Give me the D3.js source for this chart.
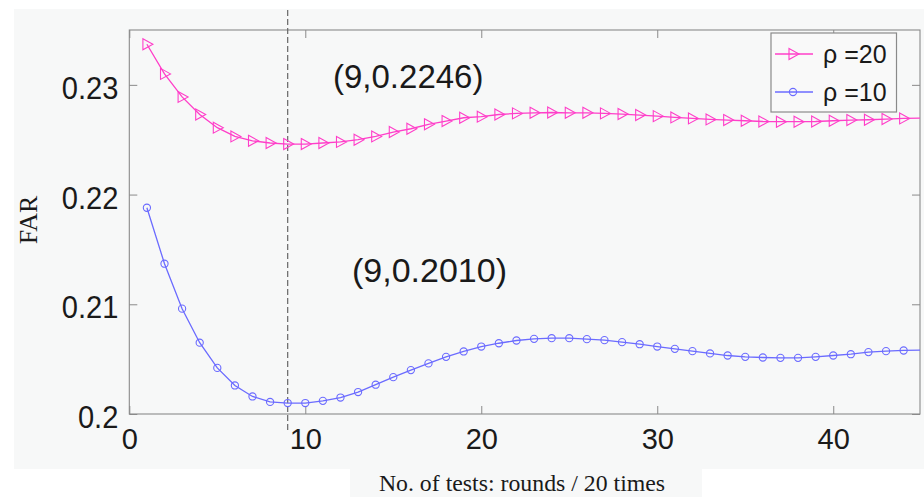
<!DOCTYPE html>
<html>
<head>
<meta charset="utf-8">
<script src="https://cdn.jsdelivr.net/npm/d3@7"></script>
<style>
  html, body { margin: 0; padding: 0; background: #ffffff; }
  svg { display: block; }
</style>
</head>
<body>
<svg id="chart" width="924" height="497"></svg>
<script>
// Test rounds (x) and false-alarm rate for the two ρ settings
const rounds = d3.range(1, 46);
const far20 = [
  0.2337, 0.2310, 0.2289, 0.2273, 0.2261, 0.2253, 0.2249, 0.2247, 0.2246, 0.2246,
  0.2247, 0.2248, 0.2250, 0.2253, 0.2257, 0.2260, 0.2264, 0.2267, 0.2270, 0.2271,
  0.2273, 0.2274, 0.22745, 0.22748, 0.22745, 0.22745, 0.2274, 0.22734, 0.22725, 0.22715,
  0.22703, 0.22694, 0.22685, 0.22679, 0.22673, 0.22666, 0.22664, 0.22664, 0.22666, 0.22673,
  0.22679, 0.22682, 0.22688, 0.22694, 0.22697
];
const far10 = [
  0.2188, 0.2137, 0.2096, 0.2065, 0.2042, 0.2026, 0.2016, 0.2011, 0.2010, 0.2010,
  0.2012, 0.2015, 0.2020, 0.20267, 0.20336, 0.2040, 0.20461, 0.20521, 0.2057, 0.20615,
  0.20645, 0.2067, 0.20685, 0.20691, 0.20691, 0.20682, 0.20673, 0.20655, 0.20636, 0.20615,
  0.20594, 0.20573, 0.20552, 0.20533, 0.20521, 0.20515, 0.20512, 0.20512, 0.20521, 0.20533,
  0.20545, 0.20564, 0.20573, 0.20579, 0.20582
];
const xTicks = [0, 10, 20, 30, 40];
const yTicks = [0.2, 0.21, 0.22, 0.23];
const yTickLabels = ["0.2", "0.21", "0.22", "0.23"];
const seriesNames = ["ρ =20", "ρ =10"];
const markRound = 9;
const markLabels = ["(9,0.2246)", "(9,0.2010)"];

const svg = d3.select("#chart");
const M = { left: 129.3, right: 920, top: 30, bottom: 414 };
const x = d3.scaleLinear().domain([0, 44.93]).range([M.left, M.right]);
const y = d3.scaleLinear().domain([0.2, 0.235]).range([M.bottom, M.top]);

const pink = "#ff3fc9";
const blue = "#6b6bff";
const frame = "#8a8a8a";
const sansFont = "'Liberation Sans', Arial, sans-serif";
const serif = "'Liberation Serif', 'Times New Roman', serif";

// figure background panel
svg.append("rect").attr("x", 14).attr("y", 9).attr("width", 910).attr("height", 460).attr("fill", "#f7f8f8");
svg.append("rect").attr("x", 350).attr("y", 469).attr("width", 352).attr("height", 28).attr("fill", "#f7f8f8");

svg.append("defs").append("clipPath").attr("id", "plotClip")
  .append("rect").attr("x", M.left).attr("y", M.top)
  .attr("width", M.right - M.left).attr("height", M.bottom - M.top);

// axes with inward ticks on all four sides
const tickLen = 8;
svg.append("g").attr("transform", `translate(0,${M.bottom})`)
  .call(d3.axisBottom(x).tickValues(xTicks).tickSizeInner(-tickLen).tickSizeOuter(0).tickPadding(14).tickFormat(d3.format("d")))
  .call(g => g.selectAll("text").attr("font-family", sansFont).attr("font-size", 29).attr("fill", "#1a1a1a").attr("dy", "0.71em"));
svg.append("g").attr("transform", `translate(0,${M.top})`)
  .call(d3.axisTop(x).tickValues(xTicks).tickSizeInner(-tickLen).tickSizeOuter(0).tickFormat(""));
svg.append("g").attr("transform", `translate(${M.left},0)`)
  .call(d3.axisLeft(y).tickValues(yTicks).tickSizeInner(-tickLen).tickSizeOuter(0).tickPadding(12)
    .tickFormat((d, i) => yTickLabels[i]))
  .call(g => g.selectAll("text").attr("font-family", sansFont).attr("font-size", 32)
    .attr("fill", "#1a1a1a").attr("dy", "0.42em").attr("transform", "scale(0.91,1)"));
svg.append("g").attr("transform", `translate(${M.right},0)`)
  .call(d3.axisRight(y).tickValues(yTicks).tickSizeInner(-tickLen).tickSizeOuter(0).tickFormat(""));
svg.selectAll(".domain").remove();
svg.selectAll(".tick line").attr("stroke", frame).attr("stroke-width", 1);

svg.append("rect").attr("x", M.left).attr("y", M.top)
  .attr("width", M.right - M.left).attr("height", M.bottom - M.top)
  .attr("fill", "none").attr("stroke", frame).attr("stroke-width", 1.1);

// vertical marker at the minimum round
svg.append("line")
  .attr("x1", x(markRound)).attr("x2", x(markRound))
  .attr("y1", 10).attr("y2", 431)
  .attr("stroke", "#666").attr("stroke-width", 1.2).attr("stroke-dasharray", "6,3");

const line = d3.line().x(d => x(d[0])).y(d => y(d[1]));
const plot = svg.append("g").attr("clip-path", "url(#plotClip)");

const s20 = rounds.map((r, i) => [r, far20[i]]);
const s10 = rounds.map((r, i) => [r, far10[i]]);
const visible = d => x(d[0]) <= M.right - 2;

const triangle = (cx, cy) => `M${cx - 4},${cy - 5.5}L${cx + 6},${cy}L${cx - 4},${cy + 5.5}Z`;

plot.append("path").datum(s20).attr("d", line).attr("fill", "none").attr("stroke", pink).attr("stroke-width", 1.3);
plot.selectAll(".m20").data(s20.filter(visible)).enter().append("path").attr("class", "m20")
  .attr("d", d => triangle(x(d[0]), y(d[1])))
  .attr("fill", "none").attr("stroke", pink).attr("stroke-width", 1.1);

plot.append("path").datum(s10).attr("d", line).attr("fill", "none").attr("stroke", blue).attr("stroke-width", 1.3);
plot.selectAll(".m10").data(s10.filter(visible)).enter().append("circle").attr("class", "m10")
  .attr("cx", d => x(d[0])).attr("cy", d => y(d[1])).attr("r", 3.6)
  .attr("fill", "none").attr("stroke", blue).attr("stroke-width", 1.1);

// value callouts
svg.append("text").attr("x", 333).attr("y", 88).attr("font-family", sansFont).attr("font-size", 33)
  .attr("fill", "#1a1a1a").text(markLabels[0]);
svg.append("text").attr("x", 352).attr("y", 282).attr("font-family", sansFont).attr("font-size", 34)
  .attr("fill", "#1a1a1a").text(markLabels[1]);

// legend
const lg = svg.append("g");
lg.append("rect").attr("x", 771).attr("y", 33).attr("width", 125.5).attr("height", 79)
  .attr("fill", "#f9f9f9").attr("stroke", frame).attr("stroke-width", 1.2);
const rowsY = [54, 92];
lg.append("line").attr("x1", 775).attr("x2", 813).attr("y1", rowsY[0]).attr("y2", rowsY[0]).attr("stroke", pink).attr("stroke-width", 1.3);
lg.append("path").attr("d", triangle(793, rowsY[0])).attr("fill", "none").attr("stroke", pink).attr("stroke-width", 1.1);
lg.append("line").attr("x1", 775).attr("x2", 813).attr("y1", rowsY[1]).attr("y2", rowsY[1]).attr("stroke", blue).attr("stroke-width", 1.3);
lg.append("circle").attr("cx", 793).attr("cy", rowsY[1]).attr("r", 3.6).attr("fill", "none").attr("stroke", blue).attr("stroke-width", 1.1);
lg.selectAll(".lt").data(seriesNames).enter().append("text").attr("class", "lt")
  .attr("x", 823).attr("y", (d, i) => rowsY[i] + 9)
  .attr("font-family", sansFont).attr("font-size", 25).attr("fill", "#1a1a1a").text(d => d);

// axis titles
svg.append("text").attr("transform", "translate(37,220) rotate(-90)").attr("text-anchor", "middle")
  .attr("font-family", serif).attr("font-size", 26).attr("fill", "#1a1a1a").text("FAR");
svg.append("text").attr("x", 522).attr("y", 491).attr("text-anchor", "middle")
  .attr("font-family", serif).attr("font-size", 23.8).attr("fill", "#1a1a1a").text("No. of tests: rounds / 20 times");
</script>
</body>
</html>
